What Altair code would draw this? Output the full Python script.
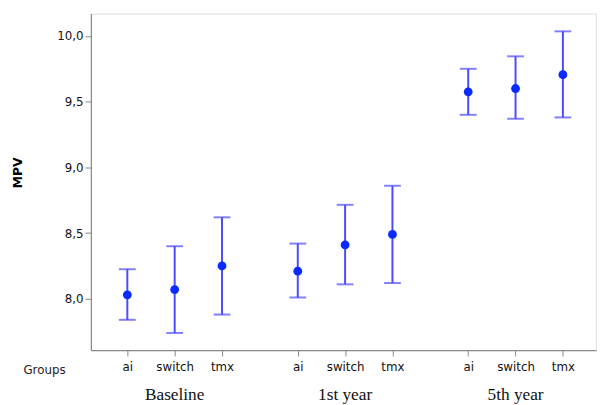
import altair as alt
import pandas as pd

groups = ["Baseline", "1st year", "5th year"]
items = ["ai", "switch", "tmx"]
means = [8.03, 8.07, 8.25, 8.21, 8.41, 8.49, 9.575, 9.60, 9.705]
upper = [8.225, 8.40, 8.62, 8.42, 8.715, 8.86, 9.75, 9.845, 10.035]
lower = [7.84, 7.74, 7.88, 8.01, 8.11, 8.12, 9.40, 9.37, 9.38]

GAP = 3.6
rows = []
for gi, g in enumerate(groups):
    for ii, it in enumerate(items):
        k = gi * 3 + ii
        rows.append(dict(group=g, item=it, pos=gi * GAP + ii,
                         mean=means[k], lo=lower[k], hi=upper[k]))
df = pd.DataFrame(rows)
gdf = pd.DataFrame([dict(group=g, pos=gi * GAP + 1) for gi, g in enumerate(groups)])

W, H = 512, 341
xdom = [-0.77, 9.9]
ydom = [7.61, 10.17]

pos_list = list(df["pos"])
item_list = list(df["item"])
expr = " : ".join(
    [f"abs(datum.value - {p}) < 0.01 ? '{it}'" for p, it in zip(pos_list, item_list)]
) + " : ''"

xs = alt.Scale(domain=xdom, nice=False, zero=False)
ys = alt.Scale(domain=ydom, nice=False, zero=False)

x_axis = alt.Axis(values=pos_list, labelExpr=expr, title=None, grid=False,
                  tickSize=6, tickColor="#888888", domainColor="#888888",
                  labelFont="DejaVu Sans", labelFontSize=12, labelColor="#111111",
                  labelPadding=6, domainWidth=1.2)
y_axis = alt.Axis(values=[8.0, 8.5, 9.0, 9.5, 10.0],
                  labelExpr="replace(format(datum.value, '.1f'), '.', ',')",
                  title="MPV", titleFont="DejaVu Sans", titleFontSize=12.5,
                  titleFontWeight="bold", titleColor="#000000",
                  titleX=-74, titleY=161, titleAngle=-90, titleBaseline="middle",
                  grid=False, tickSize=6, tickColor="#888888", domainColor="#888888",
                  labelFont="DejaVu Sans", labelFontSize=12, labelColor="#111111",
                  labelPadding=2, domainWidth=1.2)

base = alt.Chart(df)
blue_bar = "#4a4aff"
blue_pt = "#0a2aff"

rules = base.mark_rule(color=blue_bar, strokeWidth=2).encode(
    x=alt.X("pos:Q", scale=xs, axis=x_axis),
    y=alt.Y("lo:Q", scale=ys, axis=y_axis),
    y2="hi:Q",
)
cap_hi = base.mark_tick(color=blue_bar, thickness=2, size=17, orient="horizontal").encode(
    x=alt.X("pos:Q", scale=xs), y=alt.Y("hi:Q", scale=ys))
cap_lo = base.mark_tick(color=blue_bar, thickness=2, size=17, orient="horizontal").encode(
    x=alt.X("pos:Q", scale=xs), y=alt.Y("lo:Q", scale=ys))
pts = base.mark_point(filled=True, color=blue_pt, size=80, opacity=1).encode(
    x=alt.X("pos:Q", scale=xs), y=alt.Y("mean:Q", scale=ys))

glabels = alt.Chart(gdf).mark_text(font="Liberation Serif", fontSize=17.5,
                                    color="#111111", baseline="middle").encode(
    x=alt.X("pos:Q", scale=xs), y=alt.value(H + 46), text="group:N")

groups_lbl = alt.Chart(gdf.head(1)).mark_text(font="DejaVu Sans", fontSize=12,
                                              color="#222222", baseline="middle").encode(
    x=alt.value(-47), y=alt.value(H + 20), text=alt.value("Groups"))

chart = alt.layer(rules, cap_hi, cap_lo, pts, glabels, groups_lbl).properties(
    width=W, height=H,
    autosize=alt.AutoSizeParams(type="none"),
    padding={"left": 84, "top": 3, "right": 2, "bottom": 52},
).configure_view(stroke="#888888", strokeWidth=1.2).configure(background="white")

chart.save("out.html", embed_options={"renderer": "svg", "actions": False})
